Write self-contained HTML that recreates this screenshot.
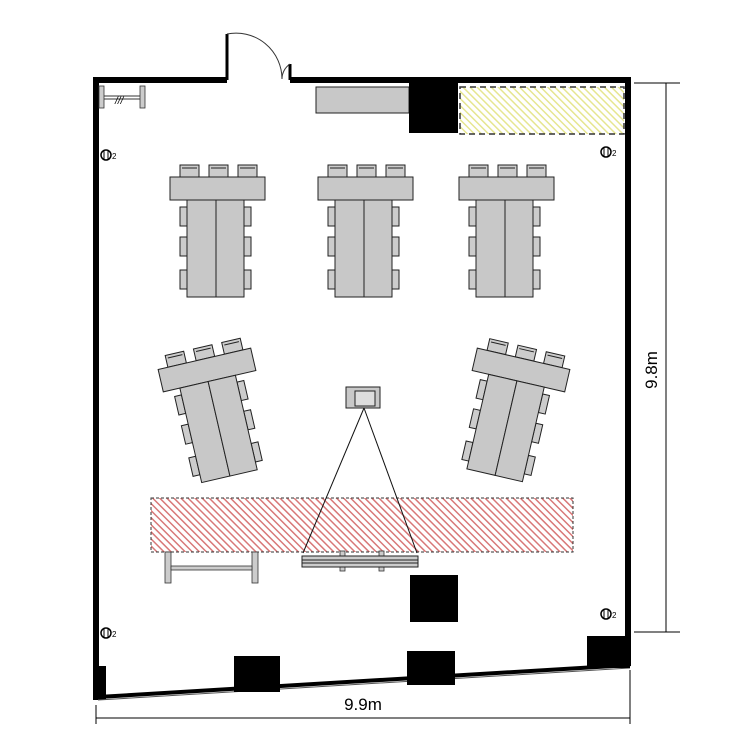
<!DOCTYPE html>
<html><head><meta charset="utf-8"><style>html,body{margin:0;padding:0;background:#fff}svg{display:block}</style></head>
<body>
<svg width="750" height="750" viewBox="0 0 750 750" xmlns="http://www.w3.org/2000/svg" font-family="Liberation Sans, sans-serif">
<defs>
<pattern id="red" width="5" height="5" patternUnits="userSpaceOnUse" patternTransform="rotate(-45)">
<rect width="5" height="5" fill="#fff"/><rect width="1.5" height="5" fill="#d87878"/></pattern>
<pattern id="yel" width="5" height="5" patternUnits="userSpaceOnUse" patternTransform="rotate(-45)">
<rect width="5" height="5" fill="#fff"/><rect width="1.5" height="5" fill="#e6e690"/></pattern>
<g id="chairT"><rect x="0" y="0" width="19" height="12" fill="#ccc" stroke="#222" stroke-width="1"/><line x1="2" y1="3" x2="17" y2="3" stroke="#222"/></g>
<g id="chairS"><rect x="0" y="0" width="7" height="19" fill="#ccc" stroke="#222" stroke-width="1"/></g>
<g id="grp">
<use href="#chairT" x="10" y="0"/><use href="#chairT" x="39" y="0"/><use href="#chairT" x="68" y="0"/>
<use href="#chairS" x="10" y="42"/><use href="#chairS" x="10" y="72"/><use href="#chairS" x="10" y="105"/>
<use href="#chairS" x="74" y="42"/><use href="#chairS" x="74" y="72"/><use href="#chairS" x="74" y="105"/>
<rect x="0" y="12" width="95" height="23" fill="#c8c8c8" stroke="#222"/>
<rect x="17" y="35" width="29" height="97" fill="#c8c8c8" stroke="#222"/>
<rect x="46" y="35" width="28" height="97" fill="#c8c8c8" stroke="#222"/>
</g>
<g id="outlet"><circle cx="0" cy="0" r="5" fill="#fff" stroke="#000" stroke-width="1.5"/><line x1="-2" y1="-4" x2="-2" y2="4" stroke="#000"/><line x1="2" y1="-4" x2="2" y2="4" stroke="#000"/><text x="6" y="4" font-size="8">2</text></g>
</defs>

<polyline points="227,80 96,80 96,698" fill="none" stroke="#000" stroke-width="6"/>
<rect x="93" y="666" width="13" height="34" fill="#000"/>
<polyline points="290,80 628,80 628,666" fill="none" stroke="#000" stroke-width="6"/>
<line x1="227" y1="80" x2="227" y2="34" stroke="#000" stroke-width="3"/>
<line x1="290" y1="80" x2="290" y2="64" stroke="#000" stroke-width="3"/>
<path d="M227,34 A46,46 0 0 1 282,79" fill="none" stroke="#333" stroke-width="1"/>
<path d="M290,64 A18,18 0 0 0 282,79" fill="none" stroke="#333" stroke-width="1"/>
<line x1="98" y1="697" x2="630" y2="665" stroke="#000" stroke-width="4"/>
<line x1="98" y1="700" x2="630" y2="668" stroke="#555" stroke-width="1"/>

<rect x="99" y="86" width="5" height="22" fill="#ccc" stroke="#333" stroke-width="0.8"/>
<rect x="140" y="86" width="5" height="22" fill="#ccc" stroke="#333" stroke-width="0.8"/>
<line x1="104" y1="96" x2="140" y2="96" stroke="#333"/><line x1="104" y1="99" x2="140" y2="99" stroke="#333"/>
<text x="115" y="104" font-size="10" font-style="italic">///</text>

<rect x="316" y="87" width="93" height="26" fill="#c8c8c8" stroke="#222"/>
<rect x="409" y="83" width="49" height="50" fill="#000"/>
<rect x="460" y="87" width="164" height="47" fill="url(#yel)" stroke="#333" stroke-width="1.5" stroke-dasharray="6,4"/>

<use href="#outlet" x="106" y="155"/><use href="#outlet" x="606" y="152"/>
<use href="#outlet" x="106" y="633"/><use href="#outlet" x="606" y="614"/>

<use href="#grp" x="170" y="165"/>
<use href="#grp" x="318" y="165"/>
<use href="#grp" x="459" y="165"/>
<use href="#grp" transform="translate(207,370) rotate(-13) translate(-47.5,-23.5)"/>
<use href="#grp" transform="translate(521,370) rotate(13) translate(-47.5,-23.5)"/>

<rect x="151" y="498" width="422" height="54" fill="url(#red)" stroke="#333" stroke-width="1" stroke-dasharray="3,2"/>

<rect x="346" y="387" width="34" height="21" fill="#c8c8c8" stroke="#222"/>
<rect x="355" y="391" width="20" height="15" fill="#ddd" stroke="#222"/>
<line x1="364" y1="408" x2="303" y2="553" stroke="#111"/>
<line x1="364" y1="408" x2="417" y2="553" stroke="#111"/>
<rect x="340" y="551" width="5" height="20" fill="#ccc" stroke="#333" stroke-width="0.8"/>
<rect x="379" y="551" width="5" height="20" fill="#ccc" stroke="#333" stroke-width="0.8"/>
<rect x="302" y="556" width="116" height="11" fill="#ccc" stroke="#222"/>
<line x1="302" y1="560" x2="418" y2="560" stroke="#222"/><line x1="302" y1="563" x2="418" y2="563" stroke="#222"/>

<rect x="165" y="552" width="6" height="31" fill="#ccc" stroke="#333" stroke-width="0.8"/>
<rect x="252" y="552" width="6" height="31" fill="#ccc" stroke="#333" stroke-width="0.8"/>
<rect x="171" y="566" width="81" height="4" fill="#ccc" stroke="#333" stroke-width="0.8"/>

<rect x="410" y="575" width="48" height="47" fill="#000"/>
<rect x="234" y="656" width="46" height="36" fill="#000"/>
<rect x="407" y="651" width="48" height="34" fill="#000"/>
<rect x="587" y="636" width="43" height="32" fill="#000"/>

<line x1="634" y1="83" x2="680" y2="83" stroke="#000"/>
<line x1="634" y1="632" x2="680" y2="632" stroke="#000"/>
<line x1="666" y1="83" x2="666" y2="632" stroke="#000"/>
<text x="0" y="0" font-size="17" transform="translate(657,370) rotate(-90)" text-anchor="middle">9.8m</text>
<line x1="96" y1="705" x2="96" y2="724" stroke="#000"/>
<line x1="630" y1="670" x2="630" y2="724" stroke="#000"/>
<line x1="96" y1="718" x2="630" y2="718" stroke="#000"/>
<text x="363" y="710" font-size="17" text-anchor="middle">9.9m</text>
</svg>
</body></html>
